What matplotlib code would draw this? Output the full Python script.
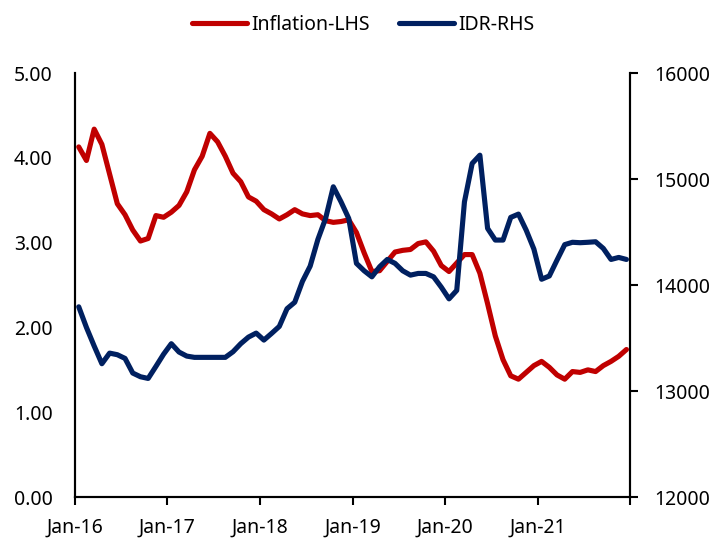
import matplotlib.pyplot as plt
from matplotlib.ticker import FormatStrFormatter

plt.rcParams['font.family'] = ['Noto Sans', 'DejaVu Sans']

# monthly data, Jan-16 .. Dec-21
inflation = [
    4.13, 3.97, 4.34, 4.16, 3.81, 3.46, 3.33, 3.15, 3.02, 3.05, 3.32, 3.30,
    3.36, 3.44, 3.60, 3.86, 4.02, 4.29, 4.19, 4.02, 3.82, 3.72, 3.54, 3.49,
    3.39, 3.34, 3.28, 3.33, 3.39, 3.34, 3.32, 3.33, 3.26, 3.24, 3.25, 3.27,
    3.12, 2.88, 2.66, 2.67, 2.78, 2.89, 2.91, 2.92, 2.99, 3.01, 2.90, 2.73,
    2.66, 2.76, 2.86, 2.86, 2.64, 2.28, 1.90, 1.62, 1.43, 1.39, 1.47, 1.55,
    1.60, 1.53, 1.44, 1.39, 1.48, 1.47, 1.50, 1.48, 1.55, 1.60, 1.66, 1.74,
]
idr = [
    13795, 13600, 13425, 13258, 13358, 13343, 13308, 13170, 13135, 13119, 13232, 13348,
    13447, 13368, 13330, 13318, 13318, 13318, 13318, 13318, 13371, 13447, 13509, 13547,
    13481, 13544, 13610, 13777, 13838, 14035, 14179, 14431, 14629, 14928, 14786, 14629,
    14205, 14135, 14078, 14173, 14242, 14205, 14135, 14094, 14110, 14110, 14078, 13980,
    13870, 13950, 14786, 15148, 15226, 14535, 14425, 14425, 14639, 14670, 14519, 14340,
    14055, 14086, 14236, 14382, 14404, 14400, 14404, 14409, 14346, 14242, 14261, 14242,
]
year_labels = ['Jan-16', 'Jan-17', 'Jan-18', 'Jan-19', 'Jan-20', 'Jan-21', '']

red = '#C00000'
navy = '#002060'

fig = plt.figure(figsize=(7.27, 5.42), dpi=100)
ax = fig.add_axes([0.103, 0.083, 0.764, 0.782])
ax2 = ax.twinx()

x = [i + 0.5 for i in range(len(inflation))]
l1, = ax.plot(x, inflation, color=red, lw=3.7, solid_capstyle='round',
              solid_joinstyle='round', label='Inflation-LHS')
l2, = ax2.plot(x, idr, color=navy, lw=3.7, solid_capstyle='round',
               solid_joinstyle='round', label='IDR-RHS')

ax.set_xlim(0, len(inflation))
ax.set_ylim(0, 5)
ax2.set_ylim(12000, 16000)
ax.set_xticks(range(0, len(inflation) + 1, 12))
ax.set_xticklabels(year_labels)
ax.set_yticks([0, 1, 2, 3, 4, 5])
ax.yaxis.set_major_formatter(FormatStrFormatter('%.2f'))
ax2.set_yticks([12000, 13000, 14000, 15000, 16000])

for a in (ax, ax2):
    a.spines['top'].set_visible(False)
    for s in a.spines.values():
        s.set_linewidth(1.5)
        s.set_color('black')

fs = 14
ax.tick_params(axis='y', length=0, pad=16, labelsize=fs)
ax.tick_params(axis='x', length=6, width=1.5, direction='out', pad=9, labelsize=fs)
ax2.tick_params(axis='y', length=6, width=1.5, direction='out', pad=11, labelsize=fs)

fig.legend(handles=[l1, l2], loc='upper center', bbox_to_anchor=(0.5, 1.005),
           ncol=2, frameon=False, fontsize=fs, handlelength=2.8,
           handletextpad=0.25, columnspacing=1.5)

fig.savefig('out.png', dpi=100)
